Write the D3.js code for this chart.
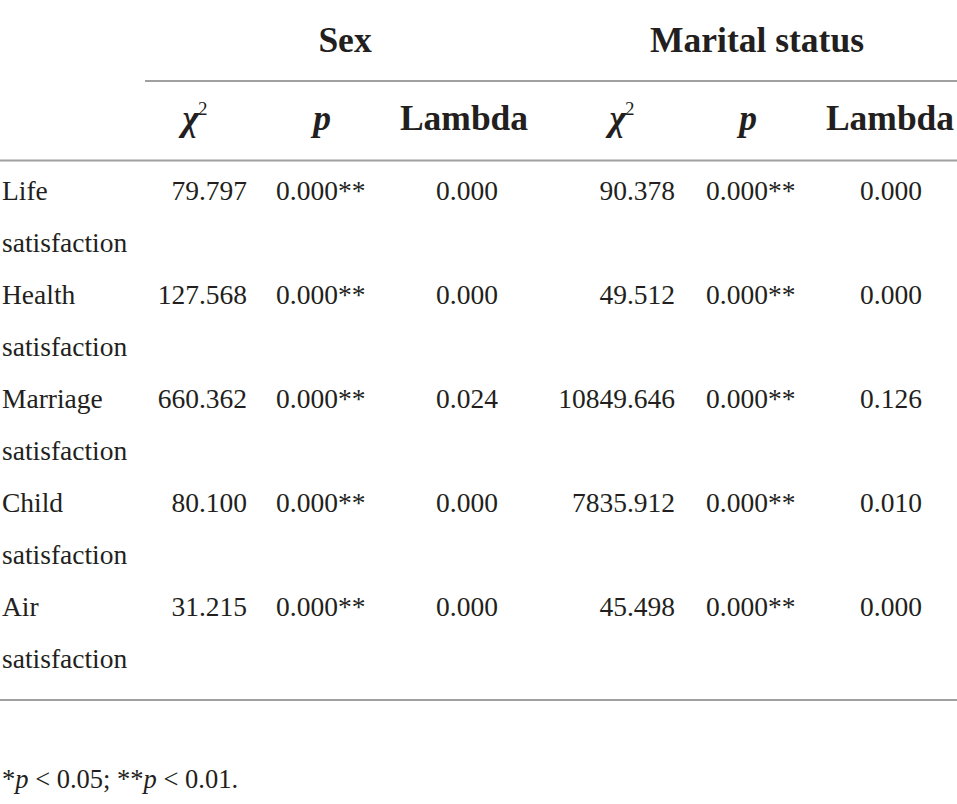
<!DOCTYPE html>
<html>
<head>
<meta charset="utf-8">
<script src="https://cdn.jsdelivr.net/npm/d3@7"></script>
<style>
  html, body { margin: 0; padding: 0; background: #fff; }
  svg text { font-family: "Liberation Serif", "DejaVu Serif", serif; fill: #231f20; }
</style>
</head>
<body>
<svg id="tbl" width="957" height="804"></svg>
<script>
// ── Table data ───────────────────────────────────────────────────────────────
const rowLabels  = [['Life', 'satisfaction'], ['Health', 'satisfaction'], ['Marriage', 'satisfaction'],
                    ['Child', 'satisfaction'], ['Air', 'satisfaction']];
const groups     = ['Sex', 'Marital status'];
const sexChi     = ['79.797', '127.568', '660.362', '80.100', '31.215'];
const sexP       = ['0.000**', '0.000**', '0.000**', '0.000**', '0.000**'];
const sexLambda  = ['0.000', '0.000', '0.024', '0.000', '0.000'];
const marChi     = ['90.378', '49.512', '10849.646', '7835.912', '45.498'];
const marP       = ['0.000**', '0.000**', '0.000**', '0.000**', '0.000**'];
const marLambda  = ['0.000', '0.000', '0.126', '0.010', '0.000'];

// ── Layout ───────────────────────────────────────────────────────────────────
const W = 957, H = 804;
const svg = d3.select('#tbl');
svg.append('rect').attr('width', W).attr('height', H).attr('fill', '#fff');

const LINE = '#a0a0a0';
const FS = 27.5, FS_HEAD = 35.5;

// columns: header anchor x, data anchor x + text-anchor
const cols = [
  { head: 'chi',    hx: 195, dx: 247, anchor: 'end',    vals: sexChi },
  { head: 'p',      hx: 322, dx: 276, anchor: 'start',  vals: sexP },
  { head: 'Lambda', hx: 464, dx: 467, anchor: 'middle', vals: sexLambda },
  { head: 'chi',    hx: 622, dx: 675, anchor: 'end',    vals: marChi },
  { head: 'p',      hx: 748, dx: 706, anchor: 'start',  vals: marP },
  { head: 'Lambda', hx: 890, dx: 891, anchor: 'middle', vals: marLambda }
];
const groupX = d3.scaleOrdinal().domain(groups).range([345, 757]);

const y = d3.scaleBand()
  .domain(d3.range(rowLabels.length))
  .range([164, 684]);

// ── Rules ────────────────────────────────────────────────────────────────────
const rules = [[145, W, 81], [0, W, 160.5], [0, W, 700]];
svg.selectAll('line.rule').data(rules).join('line')
  .attr('class', 'rule')
  .attr('x1', d => d[0]).attr('x2', d => d[1])
  .attr('y1', d => d[2]).attr('y2', d => d[2])
  .attr('stroke', LINE).attr('stroke-width', 2);

// ── Group headers ────────────────────────────────────────────────────────────
svg.selectAll('text.group').data(groups).join('text')
  .attr('class', 'group')
  .attr('x', d => groupX(d)).attr('y', 52)
  .attr('text-anchor', 'middle')
  .attr('font-size', FS_HEAD).attr('font-weight', 'bold')
  .text(d => d);

// ── Column headers ───────────────────────────────────────────────────────────
const heads = svg.selectAll('text.head').data(cols).join('text')
  .attr('class', 'head')
  .attr('x', d => d.hx).attr('y', 130)
  .attr('text-anchor', 'middle')
  .attr('font-size', FS_HEAD).attr('font-weight', 'bold');

heads.each(function(d) {
  const t = d3.select(this);
  if (d.head === 'chi') {
    t.append('tspan').attr('font-style', 'italic').text('χ');
    t.append('tspan').attr('font-size', 19).attr('dy', -15).attr('dx', -1).attr('font-weight', 'normal').text('2');
  } else if (d.head === 'p') {
    t.append('tspan').attr('font-style', 'italic').text('p');
  } else {
    t.text(d.head);
  }
});

// ── Body ─────────────────────────────────────────────────────────────────────
const rowsG = svg.selectAll('g.row').data(rowLabels).join('g')
  .attr('class', 'row')
  .attr('transform', (d, i) => `translate(0,${y(i)})`);

rowsG.selectAll('text.label').data(d => d).join('text')
  .attr('class', 'label')
  .attr('x', 2).attr('y', (d, j) => 36 + j * 52)
  .attr('font-size', FS)
  .text(d => d);

rowsG.each(function(d, i) {
  d3.select(this).selectAll('text.val').data(cols).join('text')
    .attr('class', 'val')
    .attr('x', c => c.dx).attr('y', 36)
    .attr('text-anchor', c => c.anchor)
    .attr('font-size', FS)
    .text(c => c.vals[i]);
});

// ── Footnote ─────────────────────────────────────────────────────────────────
const note = svg.append('text').attr('x', 2).attr('y', 788).attr('font-size', FS - 1);
[['*', false], ['p', true], [' < 0.05; **', false], ['p', true], [' < 0.01.', false]]
  .forEach(([s, it]) => note.append('tspan').attr('font-style', it ? 'italic' : null).text(s));
</script>
</body>
</html>
